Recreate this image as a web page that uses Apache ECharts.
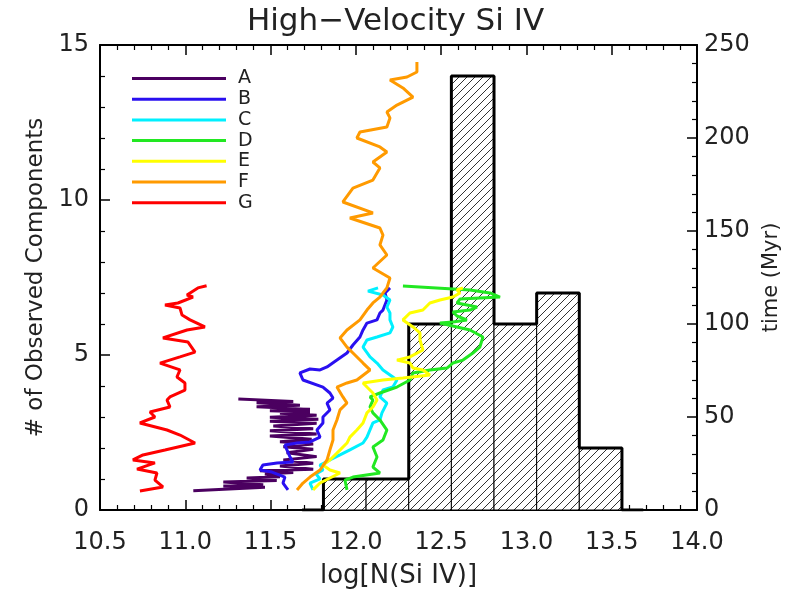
<!DOCTYPE html>
<html>
<head>
<meta charset="utf-8">
<script src="https://cdn.jsdelivr.net/npm/echarts@6/dist/echarts.min.js"></script>
<style>html,body{margin:0;padding:0;background:#fff}#c{width:791px;height:596px}</style>
</head>
<body>
<div id="c"></div>
<script>
// ---- Data ----
const titleText = 'High\u2212Velocity Si IV';
const xName = 'log[N(Si IV)]';
const yLeftName = '# of Observed Components';
const yRightName = 'time (Myr)';

// histogram (log N bins, width 0.25 dex)
const binStarts = [11.81, 12.06, 12.31, 12.56, 12.81, 13.06, 13.31];
const binWidth = 0.25;
const binCounts = [1, 1, 6, 14, 6, 7, 2];

// time tracks: [log N, time (Myr)]
const trackNames = ['A', 'B', 'C', 'D', 'E', 'F', 'G'];
const trackColors = ['#4b0060', '#2a10f0', '#00f0ff', '#22e822', '#ffff00', '#ff9a00', '#ff0000'];

const trackA = [[11.047,10.4],[11.467,12.2],[11.223,12.9],[11.457,13.6],[11.223,15.1],[11.536,15.8],[11.360,17.2],[11.555,17.9],[11.467,19.4],[11.633,20.1],[11.438,21.1],[11.750,21.9],[11.555,23.7],[11.750,25.1],[11.575,26.9],[11.770,28.7],[11.594,30.8],[11.750,32.6],[11.575,34.0],[11.750,35.5],[11.555,36.7],[11.741,38.0],[11.496,39.8],[11.770,40.9],[11.496,42.6],[11.750,43.7],[11.516,45.2],[11.770,46.6],[11.496,47.7],[11.780,48.8],[11.496,49.8],[11.770,50.9],[11.555,52.0],[11.731,52.7],[11.496,53.4],[11.731,54.1],[11.418,55.5],[11.672,56.3],[11.418,57.7],[11.633,58.4],[11.311,59.7]];
const trackB = [[11.602,10.8],[11.573,14.5],[11.584,17.7],[11.508,20.4],[11.438,21.5],[11.455,24.2],[11.538,25.3],[11.631,25.8],[11.614,28.5],[11.596,32.3],[11.584,34.9],[11.655,36.0],[11.731,36.6],[11.790,39.2],[11.772,43.0],[11.807,46.8],[11.807,50.0],[11.848,53.8],[11.831,57.5],[11.866,60.2],[11.848,62.9],[11.807,66.1],[11.690,69.9],[11.672,73.7],[11.731,75.8],[11.790,75.3],[11.831,76.9],[11.889,80.6],[11.948,84.4],[11.983,88.7],[12.024,93.0],[12.042,96.8],[12.065,100.5],[12.124,102.2],[12.141,105.9],[12.159,107.5],[12.182,112.9],[12.171,116.7],[12.200,119.4]];
const trackC = [[11.749,10.8],[11.731,14.5],[11.790,16.7],[11.766,19.4],[11.807,21.5],[11.790,24.2],[11.848,26.9],[11.907,29.6],[11.965,32.3],[12.042,36.0],[12.065,39.2],[12.100,46.8],[12.141,48.4],[12.153,52.2],[12.182,57.5],[12.141,60.8],[12.159,64.5],[12.217,66.1],[12.241,69.9],[12.217,71.5],[12.159,75.3],[12.124,79.0],[12.083,82.3],[12.042,87.6],[12.065,91.4],[12.124,93.0],[12.200,95.2],[12.217,98.4],[12.200,102.2],[12.200,105.9],[12.182,109.1],[12.200,112.9],[12.159,115.6],[12.071,117.7],[12.130,119.4]];
const trackD = [[11.948,10.8],[11.936,16.1],[11.983,17.7],[12.141,19.9],[12.100,23.1],[12.124,28.5],[12.100,33.9],[12.159,37.6],[12.182,43.0],[12.141,48.4],[12.100,52.2],[12.083,55.4],[12.100,59.1],[12.083,60.8],[12.141,62.9],[12.241,66.1],[12.317,69.9],[12.335,73.7],[12.434,75.3],[12.534,76.3],[12.569,79.0],[12.628,80.6],[12.686,84.4],[12.727,87.6],[12.745,93.0],[12.669,96.8],[12.593,98.4],[12.493,100.5],[12.569,101.1],[12.651,102.2],[12.593,104.3],[12.569,106.5],[12.669,107.5],[12.710,109.1],[12.593,111.3],[12.610,113.4],[12.727,114.0],[12.845,114.5],[12.786,116.7],[12.669,118.3],[12.276,120.4]];
const trackE = [[11.749,10.8],[11.790,14.5],[11.848,17.2],[11.907,19.9],[11.848,21.5],[11.807,24.2],[11.848,26.9],[11.889,30.6],[11.948,36.0],[11.965,39.2],[12.006,43.0],[12.042,46.8],[12.065,52.2],[12.100,55.4],[12.124,59.1],[12.100,62.9],[12.065,66.1],[12.042,68.3],[12.159,69.9],[12.276,71.0],[12.434,72.6],[12.393,75.3],[12.335,76.3],[12.317,79.0],[12.241,80.6],[12.317,82.3],[12.393,86.0],[12.376,91.4],[12.376,95.2],[12.335,98.4],[12.276,102.2],[12.317,105.9],[12.393,107.5],[12.434,111.3],[12.493,112.9],[12.569,114.5],[12.610,116.7],[12.593,118.3],[12.628,119.4]];
const trackF = [[11.655,10.8],[11.690,14.5],[11.731,17.7],[11.790,21.5],[11.831,26.9],[11.848,32.3],[11.866,37.6],[11.866,43.0],[11.889,48.4],[11.907,53.8],[11.948,57.5],[11.924,60.8],[11.889,66.1],[11.948,68.3],[12.006,69.9],[12.083,75.3],[12.042,79.0],[11.983,84.4],[11.948,87.6],[11.907,92.5],[11.948,96.8],[12.024,102.2],[12.065,107.5],[12.100,111.3],[12.141,114.5],[12.182,119.4],[12.200,124.7],[12.100,130.1],[12.182,137.1],[12.141,142.5],[12.159,147.8],[12.141,151.6],[11.965,157.0],[12.100,159.7],[11.924,165.6],[11.983,173.1],[12.100,177.4],[12.141,183.9],[12.100,187.1],[12.182,192.5],[12.141,195.2],[12.006,200.0],[12.024,203.2],[12.182,205.9],[12.200,210.8],[12.182,214.0],[12.241,217.7],[12.335,222.0],[12.276,226.9],[12.200,231.2],[12.300,232.8],[12.358,235.5],[12.358,240.9]];
const trackG = [[10.734,10.2],[10.869,12.4],[10.822,16.1],[10.834,19.9],[10.717,22.0],[10.822,25.3],[10.693,26.9],[10.752,29.6],[10.881,32.3],[10.957,33.9],[11.057,36.0],[10.969,40.3],[10.893,43.0],[10.734,46.8],[10.822,50.0],[10.793,52.7],[10.910,55.4],[10.893,59.1],[10.910,60.8],[10.998,64.5],[10.998,68.3],[10.951,71.5],[10.969,75.3],[10.852,79.0],[10.969,82.3],[11.057,84.9],[11.016,90.3],[10.869,92.5],[11.010,96.8],[11.115,98.4],[11.028,102.2],[10.981,104.8],[10.969,108.6],[10.881,110.2],[10.957,111.3],[11.045,114.5],[11.010,115.6],[11.074,119.4],[11.125,120.6]];
const tracks = [trackA, trackB, trackC, trackD, trackE, trackF, trackG];

// axis ranges / ticks
const xMin = 10.5, xMax = 14.0, xStep = 0.5;
const yMin = 0, yMax = 15, yStep = 5;
const tMin = 0, tMax = 250, tStep = 50;

// ---- Hatch pattern ----
const hatch = document.createElement('canvas');
hatch.width = 8; hatch.height = 8;
(function () {
  const g = hatch.getContext('2d');
  g.fillStyle = '#fff'; g.fillRect(0, 0, 8, 8);
  g.strokeStyle = '#333'; g.lineWidth = 1;
  g.beginPath();
  g.moveTo(-1, 9); g.lineTo(9, -1);
  g.moveTo(-1, 1); g.lineTo(1, -1);
  g.moveTo(7, 9); g.lineTo(9, 7);
  g.stroke();
})();

// outline of histogram
const outline = [];
outline.push([binStarts[0] - binWidth / 2, 0], [binStarts[0], 0]);
binStarts.forEach((s, i) => { outline.push([s, binCounts[i]], [s + binWidth, binCounts[i]]); });
const lastEdge = binStarts[binStarts.length - 1] + binWidth;
outline.push([lastEdge, 0], [lastEdge + binWidth / 2, 0]);

const FONT = 'DejaVu Sans';
const TXT = '#222';
const chart = echarts.init(document.getElementById('c'), null, { renderer: 'canvas' });

const axisCommon = {
  axisLine: { show: true, onZero: false, lineStyle: { color: '#000', width: 2 } },
  axisTick: { show: true, inside: true, length: 10, lineStyle: { color: '#000', width: 1.5 } },
  minorTick: { show: true, splitNumber: 5, length: 5, lineStyle: { color: '#000', width: 1.2 } },
  splitLine: { show: false },
  minorSplitLine: { show: false }
};

const series = [];
series.push({
  type: 'custom', name: 'hist', xAxisIndex: 0, yAxisIndex: 0, z: 1,
  data: binStarts.map((s, i) => [s, s + binWidth, binCounts[i]]),
  renderItem: function (params, api) {
    const p0 = api.coord([api.value(0), api.value(2)]);
    const p1 = api.coord([api.value(1), 0]);
    return {
      type: 'rect',
      shape: { x: p0[0], y: p0[1], width: p1[0] - p0[0], height: p1[1] - p0[1] },
      style: { fill: { image: hatch, repeat: 'repeat' }, stroke: '#000', lineWidth: 1 }
    };
  }
});
series.push({
  type: 'line', name: 'outline', xAxisIndex: 0, yAxisIndex: 0, z: 2,
  data: outline, symbol: 'none', lineStyle: { color: '#000', width: 3 }, silent: true
});
tracks.forEach((t, i) => {
  series.push({
    type: 'line', name: trackNames[i], xAxisIndex: 0, yAxisIndex: 1, z: 3,
    data: t, symbol: 'none', color: trackColors[i],
    lineStyle: { color: trackColors[i], width: 3 }
  });
});

chart.setOption({
  animation: false,
  backgroundColor: '#fff',
  title: {
    text: titleText, left: 'center', top: 1,
    textStyle: { fontFamily: FONT, fontSize: 31, fontWeight: 'normal', color: TXT }
  },
  legend: {
    data: trackNames, orient: 'vertical', left: 127, top: 64,
    icon: 'rect', itemWidth: 94, itemHeight: 3, itemGap: 1.7,
    textStyle: { fontFamily: FONT, fontSize: 19, lineHeight: 19, color: TXT, padding: [0, 0, 0, 7] }
  },
  grid: { left: 100, right: 94, top: 45, bottom: 86, containLabel: false },
  xAxis: [
    Object.assign({}, axisCommon, {
      type: 'value', position: 'bottom', min: xMin, max: xMax, interval: xStep,
      name: xName, nameLocation: 'middle', nameGap: 53,
      nameTextStyle: { fontFamily: FONT, fontSize: 26, color: TXT },
      axisLabel: { fontFamily: FONT, fontSize: 24, color: TXT, margin: 21, formatter: v => v.toFixed(1) }
    }),
    Object.assign({}, axisCommon, {
      type: 'value', position: 'top', min: xMin, max: xMax, interval: xStep,
      axisLabel: { show: false }
    })
  ],
  yAxis: [
    Object.assign({}, axisCommon, {
      type: 'value', position: 'left', min: yMin, max: yMax, interval: yStep,
      name: yLeftName, nameLocation: 'middle', nameGap: 48, nameRotate: 90,
      nameTextStyle: { fontFamily: FONT, fontSize: 23, color: TXT },
      axisLabel: { fontFamily: FONT, fontSize: 24, color: TXT, margin: 11 }
    }),
    Object.assign({}, axisCommon, {
      type: 'value', position: 'right', min: tMin, max: tMax, interval: tStep,
      name: yRightName, nameLocation: 'middle', nameGap: 57, nameRotate: 90,
      nameTextStyle: { fontFamily: FONT, fontSize: 21, color: TXT },
      axisLabel: { fontFamily: FONT, fontSize: 24, color: TXT, margin: 7 }
    })
  ],
  series: series
});
</script>
</body>
</html>
